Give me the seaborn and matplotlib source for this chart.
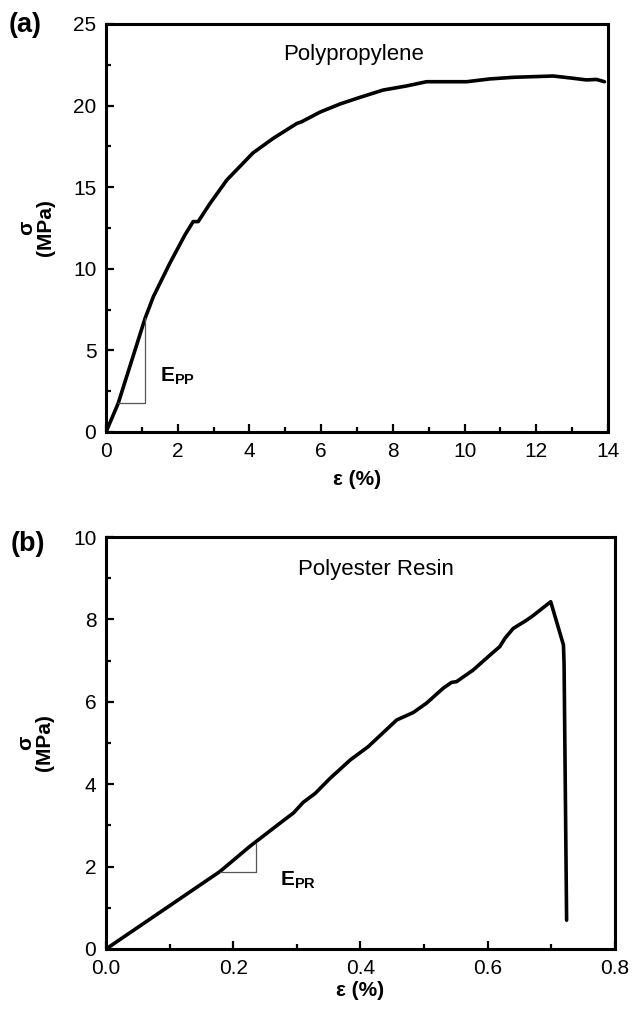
import numpy as np
import pandas as pd
import matplotlib
matplotlib.use("Agg")
import matplotlib.pyplot as plt
from matplotlib.ticker import MultipleLocator, FormatStrFormatter
import seaborn as sns

# stress-strain curves
pp_strain = [0, 0.34, 1.09, 1.32, 1.78, 2.20, 2.43, 2.57, 2.90, 3.37, 3.55, 4.1, 4.67,
             5.32, 5.45, 5.97, 6.53, 7.08, 7.73, 8.38, 8.94, 10.06, 10.7, 11.36, 11.92,
             12.47, 13.03, 13.4, 13.68, 13.9]
pp_stress = [0, 1.76, 6.97, 8.29, 10.34, 12.07, 12.89, 12.89, 14.0, 15.44, 15.85, 17.1,
             18.0, 18.9, 19.0, 19.6, 20.1, 20.5, 20.95, 21.2, 21.46, 21.46, 21.63, 21.73,
             21.77, 21.81, 21.67, 21.57, 21.6, 21.46]

pr_strain = [0, 0.179, 0.226, 0.279, 0.2945, 0.310, 0.329, 0.352, 0.384, 0.412, 0.457,
             0.483, 0.504, 0.530, 0.543, 0.551, 0.577, 0.604, 0.619, 0.627, 0.640,
             0.661, 0.672, 0.699, 0.719, 0.720, 0.724]
pr_stress = [0, 1.88, 2.49, 3.12, 3.30, 3.56, 3.78, 4.14, 4.59, 4.91, 5.56, 5.74, 5.97,
             6.33, 6.47, 6.49, 6.77, 7.14, 7.34, 7.54, 7.78, 7.98, 8.1, 8.43, 7.38,
             6.93, 0.70]

# slope triangles (modulus markers)
pp_slope_x = [0.34, 1.09, 1.09]
pp_slope_y = [1.76, 1.76, 6.97]
pr_slope_x = [0.179, 0.235, 0.235]
pr_slope_y = [1.88, 1.88, 2.57]

sns.set_style("ticks")
plt.rcParams['font.family'] = ['Liberation Sans', 'DejaVu Sans']
plt.rcParams['mathtext.fontset'] = 'custom'
plt.rcParams['mathtext.bf'] = 'Liberation Sans:bold'
plt.rcParams['mathtext.rm'] = 'Liberation Sans'
plt.rcParams['text.color'] = 'black'
plt.rcParams['axes.labelcolor'] = 'black'
plt.rcParams['xtick.color'] = 'black'
plt.rcParams['ytick.color'] = 'black'

fig = plt.figure(figsize=(6.33, 10.10), dpi=100)
ax1 = fig.add_axes([0.1675, 0.5723, 0.793, 0.404])
ax2 = fig.add_axes([0.1675, 0.0604, 0.804, 0.4079])

df_pp = pd.DataFrame({'strain': pp_strain, 'stress': pp_stress})
df_pr = pd.DataFrame({'strain': pr_strain, 'stress': pr_stress})

sns.lineplot(data=df_pp, x='strain', y='stress', ax=ax1, color='black', lw=2.6,
             sort=False, estimator=None)
sns.lineplot(data=df_pr, x='strain', y='stress', ax=ax2, color='black', lw=2.6,
             sort=False, estimator=None)

ax1.plot(pp_slope_x, pp_slope_y, color='#555555', lw=0.9)
ax2.plot(pr_slope_x, pr_slope_y, color='#555555', lw=0.9)

ax1.set_xlim(0, 14)
ax1.set_ylim(0, 25)
ax1.xaxis.set_major_locator(MultipleLocator(2))
ax1.xaxis.set_minor_locator(MultipleLocator(1))
ax1.yaxis.set_major_locator(MultipleLocator(5))
ax1.yaxis.set_minor_locator(MultipleLocator(2.5))

ax2.set_xlim(0, 0.8)
ax2.set_ylim(0, 10)
ax2.xaxis.set_major_locator(MultipleLocator(0.2))
ax2.xaxis.set_minor_locator(MultipleLocator(0.1))
ax2.yaxis.set_major_locator(MultipleLocator(2))
ax2.yaxis.set_minor_locator(MultipleLocator(1))
ax2.xaxis.set_major_formatter(FormatStrFormatter('%.1f'))

for ax in (ax1, ax2):
    for s in ax.spines.values():
        s.set_linewidth(2.2)
        s.set_color('black')
    ax.tick_params(which='major', direction='in', length=6, width=1.6,
                   labelsize=15, pad=7, top=False, right=False)
    ax.tick_params(which='minor', direction='in', length=3.5, width=1.6,
                   top=False, right=False)
    ax.set_xlabel('ε (%)', fontsize=15, fontweight='bold')
    ax.set_ylabel('σ\n(MPa)', fontsize=15, fontweight='bold', linespacing=1.0)
    ax.yaxis.set_label_coords(-0.102, 0.5)

ax1.xaxis.set_label_coords(0.5, -0.093)
ax2.xaxis.set_label_coords(0.5, -0.078)

ax1.text(4.93, 23.1, 'Polypropylene', fontsize=16, ha='left', va='center')
ax2.text(0.302, 9.2, 'Polyester Resin', fontsize=16, ha='left', va='center')
ax1.text(1.5, 3.4, r'$\mathbf{E}_\mathbf{PP}$', fontsize=15, ha='left', va='center')
ax2.text(0.274, 1.67, r'$\mathbf{E}_\mathbf{PR}$', fontsize=15, ha='left', va='center')

fig.text(0.014, 0.975, '(a)', fontsize=19.5, fontweight='bold', ha='left', va='center')
fig.text(0.016, 0.461, '(b)', fontsize=19.5, fontweight='bold', ha='left', va='center')

fig.savefig('out.png', dpi=100)
